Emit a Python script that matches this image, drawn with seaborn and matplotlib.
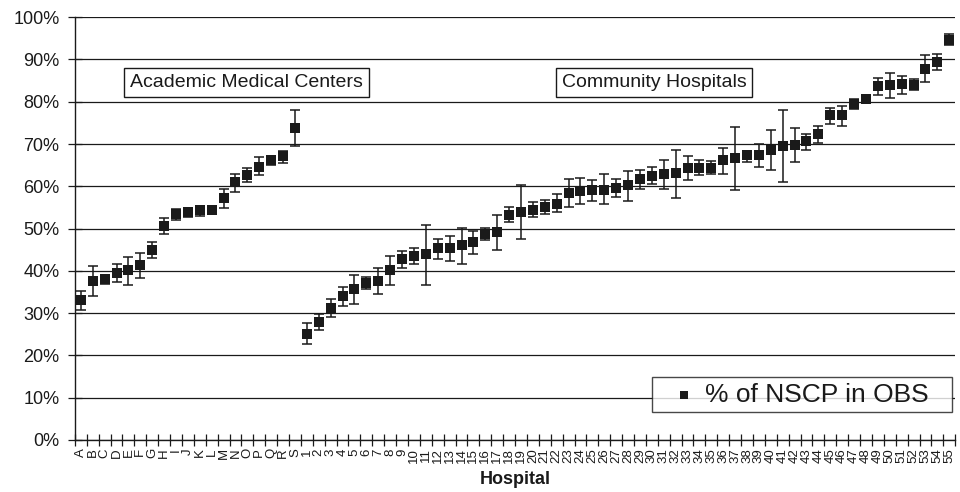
import numpy as np
import pandas as pd
import matplotlib
matplotlib.use("Agg")
import matplotlib.pyplot as plt
from matplotlib.ticker import FixedLocator, FuncFormatter
import seaborn as sns

# academic medical centers A-S, then community hospitals 1-55
academic_labels = list("ABCDEFGHIJKLMNOPQRS")
community_labels = [str(i) for i in range(1, 56)]

academic_pct = [33.1, 37.6, 38.0, 39.5, 40.1, 41.3, 45.0, 50.6, 53.5, 53.9,
                54.3, 54.3, 57.2, 60.9, 62.7, 64.6, 66.2, 67.1, 73.8]
academic_hi = [35.3, 41.1, 38.9, 41.5, 43.3, 44.3, 46.9, 52.4, 54.7, 54.9,
               55.4, 55.0, 59.4, 63.0, 64.3, 66.9, 67.2, 68.4, 78.0]
academic_lo = [30.7, 34.0, 36.9, 37.4, 36.6, 38.3, 43.1, 48.7, 52.1, 52.7,
               53.0, 53.5, 54.8, 58.6, 60.9, 62.6, 65.1, 65.6, 69.6]

community_pct = [25.1, 28.0, 31.3, 34.0, 35.7, 37.1, 37.6, 40.2, 42.7, 43.6,
                 43.9, 45.4, 45.4, 46.1, 46.8, 48.8, 49.1, 53.3, 54.0, 54.5,
                 55.2, 55.9, 58.4, 58.9, 59.0, 59.2, 59.7, 60.2, 61.7, 62.5,
                 62.9, 63.1, 64.3, 64.4, 64.4, 66.1, 66.7, 67.3, 67.3, 68.7,
                 69.6, 69.8, 70.6, 72.4, 76.8, 76.8, 79.5, 80.6, 83.7, 83.9,
                 84.1, 84.0, 87.8, 89.4, 94.7]
community_hi = [27.6, 29.8, 33.3, 36.1, 38.9, 38.6, 40.7, 43.4, 44.7, 45.4,
                50.9, 47.6, 48.3, 50.2, 49.3, 50.1, 53.1, 55.1, 60.4, 56.3,
                56.7, 58.2, 61.8, 62.0, 61.4, 62.8, 61.7, 63.5, 63.8, 64.6,
                66.3, 68.7, 67.2, 66.1, 65.9, 69.1, 74.0, 68.3, 70.0, 73.3,
                78.1, 73.8, 72.3, 74.3, 78.5, 79.1, 80.7, 81.3, 85.7, 86.8,
                86.1, 85.4, 91.1, 91.3, 96.1]
community_lo = [22.6, 26.1, 29.1, 31.7, 32.2, 35.6, 34.5, 36.6, 40.7, 41.6,
                36.6, 42.9, 42.4, 41.6, 44.0, 47.2, 44.9, 51.5, 47.6, 52.7,
                53.5, 53.8, 55.0, 55.7, 56.5, 55.7, 57.5, 56.5, 59.4, 60.6,
                59.4, 57.3, 61.4, 62.6, 62.8, 62.8, 59.1, 65.7, 64.6, 63.9,
                60.9, 65.8, 68.5, 70.3, 74.8, 74.3, 78.3, 79.9, 81.7, 81.0,
                81.9, 82.7, 84.6, 87.6, 93.5]

y_ticks = list(range(0, 101, 10))

df = pd.DataFrame({
    "hospital": academic_labels + community_labels,
    "pct": academic_pct + community_pct,
    "hi": academic_hi + community_hi,
    "lo": academic_lo + community_lo,
})
df["pos"] = np.arange(len(df))

sns.set_style("white")
plt.rcParams["font.family"] = ["Liberation Sans", "DejaVu Sans"]
ink = "#1a1a1a"

fig = plt.figure(figsize=(9.6, 4.92), dpi=100)
ax = fig.add_axes([0.078, 0.106, 0.917, 0.859])

ax.errorbar(df["pos"], df["pct"],
            yerr=[df["pct"] - df["lo"], df["hi"] - df["pct"]],
            fmt="none", ecolor=ink, elinewidth=1.1, capsize=3.6,
            capthick=1.1, zorder=3)
sns.scatterplot(data=df, x="pos", y="pct", marker="s", color=ink,
                s=48, edgecolor=ink, linewidth=0, zorder=4, ax=ax,
                label="% of NSCP in OBS")

ax.set_xlim(-0.5, len(df) - 0.5)
ax.set_ylim(0, 100)
ax.yaxis.set_major_locator(FixedLocator(y_ticks))
ax.yaxis.set_major_formatter(FuncFormatter(lambda v, p: f"{v:.0f}%"))
ax.yaxis.grid(True, color=ink, lw=0.9)
ax.set_axisbelow(True)

ax.set_xticks(df["pos"])
ax.set_xticklabels(df["hospital"], rotation=90, fontsize=9.5, color=ink)
ax.set_xticks(np.arange(len(df) + 1) - 0.5, minor=True)
ax.tick_params(axis="x", which="major", bottom=False, length=0, pad=6)
ax.tick_params(axis="x", which="minor", bottom=True, length=9,
               direction="inout", width=0.9, color=ink)
ax.tick_params(axis="y", left=True, length=10, direction="inout",
               width=0.9, color=ink, labelsize=13, labelcolor=ink, pad=6)

for side in ["top", "right"]:
    ax.spines[side].set_visible(False)
for side in ["left", "bottom"]:
    ax.spines[side].set_color(ink)
    ax.spines[side].set_linewidth(1.0)

ax.set_xlabel("Hospital", fontsize=13, fontweight="bold", color=ink,
              labelpad=6)
ax.set_ylabel("")

box = dict(boxstyle="square,pad=0.3", fc="white", ec=ink, lw=1.0)
ax.text(13.93, 84.6, "Academic Medical Centers", fontsize=14, color=ink,
        ha="center", va="center", bbox=box, zorder=5)
ax.text(48.2, 84.6, "Community Hospitals", fontsize=14, color=ink,
        ha="center", va="center", bbox=box, zorder=5)

leg = ax.legend(loc="lower left", bbox_to_anchor=(0.656, 0.066, 0.34, 0.09),
                mode="expand", fontsize=19, frameon=True, fancybox=False,
                markerscale=0.75, handletextpad=-0.2, borderpad=0.2,
                handlelength=2.0, borderaxespad=0)
leg.get_frame().set_edgecolor(ink)
leg.get_frame().set_linewidth(1.0)
for t in leg.get_texts():
    t.set_color(ink)

fig.savefig("out.png", dpi=100)
